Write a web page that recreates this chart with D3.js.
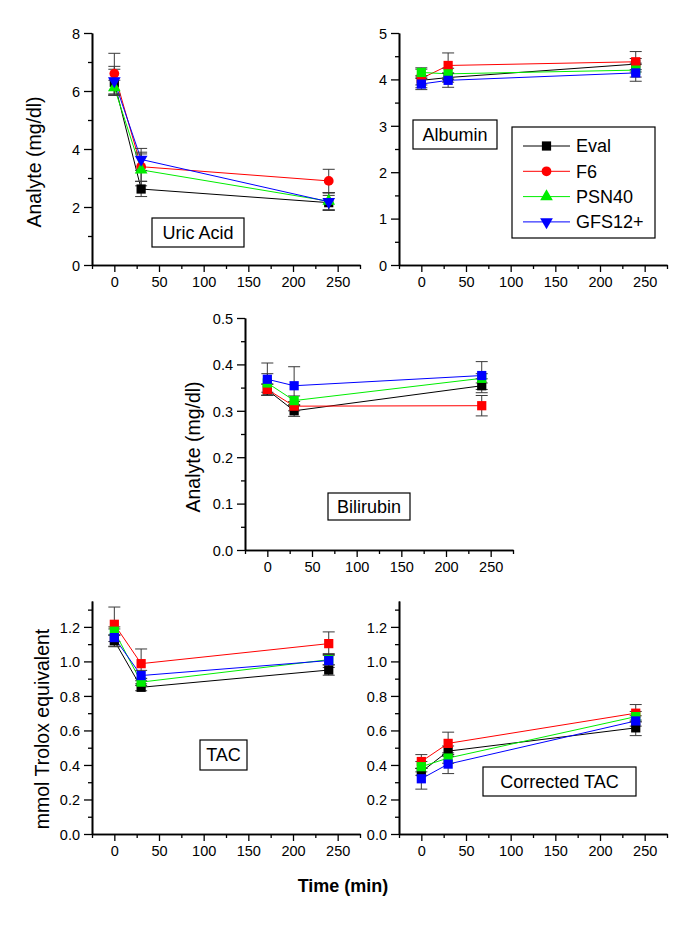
<!DOCTYPE html>
<html>
<head>
<meta charset="utf-8">
<script src="https://cdn.jsdelivr.net/npm/d3@7/dist/d3.min.js"></script>
<style>
  html, body { margin: 0; padding: 0; background: #fff; }
  svg { display: block; font-family: "Liberation Sans", Arial, Helvetica, sans-serif; }
</style>
</head>
<body>
<svg id="chart" width="685" height="939"></svg>
<script>
// ---------------- DATA ----------------
const times = [0, 30, 240];
const seriesNames = ["Eval", "F6", "PSN40", "GFS12+"];
const xTickValues = [0, 50, 100, 150, 200, 250];

// Uric Acid (mg/dl) — order: Eval, F6, PSN40, GFS12+
const uricMeans = [[6.30, 2.62, 2.15], [6.60, 3.39, 2.90], [6.12, 3.28, 2.20], [6.35, 3.64, 2.18]];
const uricErrs  = [[0.45, 0.26, 0.25], [0.70, 0.50, 0.40], [0.25, 0.55, 0.30], [0.50, 0.38, 0.30]];

// Albumin (mg/dl)
const albMeans = [[3.98, 4.04, 4.33], [4.02, 4.30, 4.38], [4.15, 4.12, 4.20], [3.90, 3.98, 4.14]];
const albErrs  = [[0.10, 0.10, 0.12], [0.20, 0.27, 0.22], [0.10, 0.12, 0.15], [0.12, 0.15, 0.18]];

// Bilirubin (mg/dl)
const biliMeans = [[0.345, 0.300, 0.354], [0.346, 0.310, 0.311], [0.360, 0.322, 0.370], [0.368, 0.354, 0.376]];
const biliErrs  = [[0.012, 0.012, 0.015], [0.012, 0.010, 0.022], [0.020, 0.010, 0.010], [0.035, 0.041, 0.030]];

// TAC (mmol Trolox equivalent)
const tacMeans = [[1.120, 0.850, 0.950], [1.215, 0.987, 1.103], [1.175, 0.880, 1.010], [1.138, 0.918, 1.005]];
const tacErrs  = [[0.035, 0.020, 0.030], [0.100, 0.085, 0.068], [0.025, 0.020, 0.030], [0.050, 0.030, 0.040]];

// Corrected TAC
const ctacMeans = [[0.360, 0.480, 0.615], [0.420, 0.525, 0.700], [0.390, 0.440, 0.680], [0.320, 0.405, 0.655]];
const ctacErrs  = [[0.020, 0.030, 0.045], [0.040, 0.065, 0.050], [0.030, 0.030, 0.030], [0.060, 0.055, 0.030]];

// ---------------- STYLE / LAYOUT ----------------
const colors = ["#000000", "#ff0000", "#00ee00", "#0000ff"];
const symbolsMixed = [d3.symbolSquare, d3.symbolCircle, d3.symbolTriangle, "down"];

const panels = [
  { means: uricMeans, errs: uricErrs, x0: 92, x1: 360, yTop: 33, yBot: 265, yDomain: [0, 8],
    yTicks: [0, 2, 4, 6, 8], yMinor: 1, fmt: d3.format("d"), symbols: symbolsMixed,
    label: "Uric Acid", box: [152, 218, 92, 29], yTitle: "Analyte (mg/dl)", yTitlePos: [34, 162] },
  { means: albMeans, errs: albErrs, x0: 399, x1: 667, yTop: 33, yBot: 265, yDomain: [0, 5],
    yTicks: [0, 1, 2, 3, 4, 5], yMinor: 0.5, fmt: d3.format("d"), symbols: null,
    label: "Albumin", box: [413, 120, 84, 29], legend: true },
  { means: biliMeans, errs: biliErrs, x0: 245, x1: 513, yTop: 318, yBot: 550, yDomain: [0, 0.5],
    yTicks: [0, 0.1, 0.2, 0.3, 0.4, 0.5], yMinor: 0.05, fmt: d3.format(".1f"), symbols: null,
    label: "Bilirubin", box: [328, 493, 82, 27], yTitle: "Analyte (mg/dl)", yTitlePos: [193, 447] },
  { means: tacMeans, errs: tacErrs, x0: 92, x1: 360, yTop: 601, yBot: 834, yDomain: [0, 1.35],
    yTicks: [0, 0.2, 0.4, 0.6, 0.8, 1.0, 1.2], yMinor: 0.1, fmt: d3.format(".1f"), symbols: null,
    label: "TAC", box: [200, 740, 47, 30], yTitle: "mmol Trolox equivalent", yTitlePos: [42, 729] },
  { means: ctacMeans, errs: ctacErrs, x0: 399, x1: 667, yTop: 601, yBot: 834, yDomain: [0, 1.35],
    yTicks: [0, 0.2, 0.4, 0.6, 0.8, 1.0, 1.2], yMinor: 0.1, fmt: d3.format(".1f"), symbols: null,
    label: "Corrected TAC", box: [483, 767, 153, 29] }
];

const svg = d3.select("#chart");

function markerPath(sym, size) {
  if (sym === "down") {
    return d3.symbol(d3.symbolTriangle, size)();
  }
  return d3.symbol(sym, size)();
}
function symSize(sym) {
  if (sym === d3.symbolSquare) return 85;
  if (sym === d3.symbolCircle) return 75;
  return 70;
}

panels.forEach(p => {
  const g = svg.append("g");
  const x = d3.scaleLinear().domain([-25, 275]).range([p.x0, p.x1]);
  const y = d3.scaleLinear().domain(p.yDomain).range([p.yBot, p.yTop]);

  // X axis: major ticks (labeled) and minor ticks
  const xMajor = d3.axisBottom(x).tickValues(xTickValues).tickSize(7).tickSizeOuter(0).tickPadding(5)
    .tickFormat(d3.format("d"));
  const xMinorVals = d3.range(-25, 276, 50);
  const xMinor = d3.axisBottom(x).tickValues(xMinorVals).tickSize(4).tickSizeOuter(0).tickFormat("");
  const gxm = g.append("g").attr("transform", `translate(0,${p.yBot})`).call(xMinor);
  const gx = g.append("g").attr("transform", `translate(0,${p.yBot})`).call(xMajor);

  // Y axis
  const yMinorVals = d3.range(p.yDomain[0], p.yDomain[1] + 1e-9, p.yMinor)
    .filter(v => !p.yTicks.some(t => Math.abs(t - v) < 1e-9));
  const yMinor = d3.axisLeft(y).tickValues(yMinorVals).tickSize(4).tickSizeOuter(0).tickFormat("");
  const yMajor = d3.axisLeft(y).tickValues(p.yTicks).tickSize(8).tickSizeOuter(0).tickPadding(4).tickFormat(p.fmt);
  const gym = g.append("g").attr("transform", `translate(${p.x0},0)`).call(yMinor);
  const gy = g.append("g").attr("transform", `translate(${p.x0},0)`).call(yMajor);

  [gx, gxm, gy, gym].forEach(a => {
    a.select(".domain").attr("stroke", "#000").attr("stroke-width", 1.6);
    a.selectAll(".tick line").attr("stroke", "#000").attr("stroke-width", 1.3);
    a.selectAll(".tick text").attr("fill", "#000").style("font-size", "14.5px")
      .style("font-family", "'Liberation Sans', Arial, sans-serif");
  });
  gy.selectAll(".tick text").attr("dy", "0.36em");

  // Lines
  const line = d3.line().x((d, i) => x(times[i])).y(d => y(d));
  p.means.forEach((m, si) => {
    g.append("path").datum(m).attr("d", line)
      .attr("fill", "none").attr("stroke", colors[si]).attr("stroke-width", 1);
  });

  // Error bars
  const capW = 6;
  p.means.forEach((m, si) => {
    m.forEach((v, i) => {
      const e = p.errs[si][i];
      const cx = x(times[i]);
      const eg = g.append("g").attr("stroke", "#3a3a3a").attr("stroke-width", 1);
      eg.append("line").attr("x1", cx).attr("x2", cx).attr("y1", y(v - e)).attr("y2", y(v + e));
      eg.append("line").attr("x1", cx - capW).attr("x2", cx + capW).attr("y1", y(v + e)).attr("y2", y(v + e));
      eg.append("line").attr("x1", cx - capW).attr("x2", cx + capW).attr("y1", y(v - e)).attr("y2", y(v - e));
    });
  });

  // Markers
  p.means.forEach((m, si) => {
    const sym = p.symbols ? p.symbols[si] : d3.symbolSquare;
    m.forEach((v, i) => {
      const rot = sym === "down" ? " rotate(180)" : "";
      g.append("path")
        .attr("d", markerPath(sym, symSize(sym === "down" ? d3.symbolTriangle : sym)))
        .attr("transform", `translate(${x(times[i])},${y(v)})${rot}`)
        .attr("fill", colors[si]);
    });
  });

  // Label box
  const [bx, by, bw, bh] = p.box;
  g.append("rect").attr("x", bx).attr("y", by).attr("width", bw).attr("height", bh)
    .attr("fill", "#fff").attr("stroke", "#000").attr("stroke-width", 1.2);
  g.append("text").attr("x", bx + bw / 2).attr("y", by + bh / 2).attr("dy", "0.36em")
    .attr("text-anchor", "middle").style("font-size", "18px").text(p.label);

  // Y title
  if (p.yTitle) {
    g.append("text")
      .attr("transform", `translate(${p.yTitlePos[0]},${p.yTitlePos[1]}) rotate(-90)`)
      .attr("dy", "0.36em").attr("text-anchor", "middle")
      .style("font-size", "19.5px").text(p.yTitle);
  }

  // Legend
  if (p.legend) {
    const lg = g.append("g");
    lg.append("rect").attr("x", 512).attr("y", 127).attr("width", 143).attr("height", 111)
      .attr("fill", "#fff").attr("stroke", "#000").attr("stroke-width", 1.2);
    seriesNames.forEach((name, si) => {
      const ly = 146 + si * 25.3;
      lg.append("line").attr("x1", 523).attr("x2", 570).attr("y1", ly).attr("y2", ly)
        .attr("stroke", colors[si]).attr("stroke-width", 1);
      const sym = symbolsMixed[si];
      const rot = sym === "down" ? " rotate(180)" : "";
      lg.append("path")
        .attr("d", markerPath(sym, symSize(sym === "down" ? d3.symbolTriangle : sym)))
        .attr("transform", `translate(546.5,${ly})${rot}`)
        .attr("fill", colors[si]);
      lg.append("text").attr("x", 576).attr("y", ly).attr("dy", "0.36em")
        .style("font-size", "18px").text(name);
    });
  }
});

// Shared x title
svg.append("text").attr("x", 343).attr("y", 886).attr("dy", "0.36em")
  .attr("text-anchor", "middle").style("font-size", "18px").style("font-weight", "bold")
  .text("Time (min)");
</script>
</body>
</html>
